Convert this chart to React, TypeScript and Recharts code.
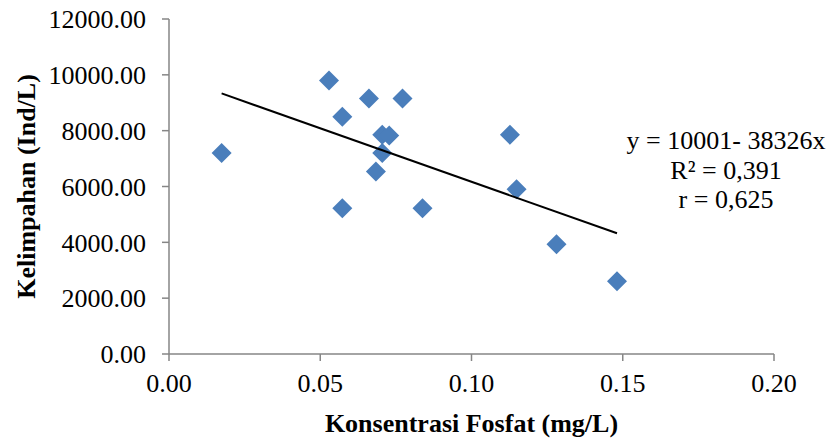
import { ScatterChart, Scatter, XAxis, YAxis } from "recharts";

// phosphate concentration (mg/L) vs. plankton abundance (Ind/L)
const phosphate = [
  0.0174, 0.0529, 0.0573, 0.0573, 0.0661, 0.0684, 0.0705, 0.0705, 0.0728,
  0.0772, 0.0838, 0.1127, 0.1149, 0.1281, 0.1481,
];
const abundance = [
  7200, 9800, 8500, 5220, 9150, 6540, 7850, 7200, 7830, 9150, 5220, 7850,
  5900, 3930, 2610,
];

const xTicks = [0, 0.05, 0.1, 0.15, 0.2];
const yTicks = [0, 2000, 4000, 6000, 8000, 10000, 12000];

// linear trend from the chart annotation
const intercept = 10001;
const slope = -38326;
const equationLines = ["y = 10001- 38326x", "R² = 0,391", "r = 0,625"];

const points = phosphate.map((x, i) => ({ x, y: abundance[i] }));
const xMin = Math.min(...phosphate);
const xMax = Math.max(...phosphate);
const trend = [xMin, xMax].map((x) => ({ x, y: intercept + slope * x }));

const FONT = '"Liberation Serif", "Times New Roman", serif';
const AXIS = "#868686";

const Diamond = (props: any) => {
  const { cx, cy } = props;
  const r = 10;
  return (
    <polygon
      points={`${cx},${cy - r} ${cx + r},${cy} ${cx},${cy + r} ${cx - r},${cy}`}
      fill="#4A7EBB"
    />
  );
};

const Nothing = () => <g />;

export default function App() {
  return (
    <div
      style={{
        position: "absolute",
        left: 0,
        top: 0,
        width: 830,
        height: 440,
        background: "#fff",
        fontFamily: FONT,
      }}
    >
      <ScatterChart
        width={830}
        height={440}
        margin={{ top: 19, right: 56, bottom: 0, left: 0 }}
      >
        <XAxis
          type="number"
          dataKey="x"
          domain={[0, 0.2]}
          ticks={xTicks}
          tickFormatter={(v: number) => v.toFixed(2)}
          height={86}
          stroke={AXIS}
          strokeWidth={1.5}
          tickSize={7}
          tickMargin={13}
          tick={{ fill: "#000", fontSize: 26, fontFamily: FONT }}
          label={{
            value: "Konsentrasi Fosfat (mg/L)",
            position: "insideBottom",
            offset: 8,
            style: {
              fill: "#000",
              fontSize: 26,
              fontWeight: "bold",
              fontFamily: FONT,
            },
          }}
        />
        <YAxis
          type="number"
          dataKey="y"
          domain={[0, 12000]}
          ticks={yTicks}
          tickFormatter={(v: number) => v.toFixed(2)}
          width={169}
          stroke={AXIS}
          strokeWidth={1.5}
          tickSize={7}
          tickMargin={16}
          tick={{ fill: "#000", fontSize: 26, fontFamily: FONT }}
          label={{
            value: "Kelimpahan (Ind/L)",
            angle: -90,
            position: "insideLeft",
            offset: 26,
            style: {
              fill: "#000",
              fontSize: 26,
              fontWeight: "bold",
              fontFamily: FONT,
              textAnchor: "middle",
            },
          }}
        />
        <Scatter
          data={points}
          shape={Diamond}
          isAnimationActive={false}
        />
        <Scatter
          data={trend}
          shape={Nothing}
          line={{ stroke: "#000", strokeWidth: 2 }}
          isAnimationActive={false}
        />
      </ScatterChart>
      <svg
        width={830}
        height={440}
        style={{ position: "absolute", left: 0, top: 0, pointerEvents: "none" }}
      >
        {equationLines.map((t, i) => (
          <text
            key={t}
            x={726}
            y={149 + i * 29.5}
            textAnchor="middle"
            fontSize={26}
            fontFamily={FONT}
            fill="#000"
          >
            {t}
          </text>
        ))}
      </svg>
    </div>
  );
}
